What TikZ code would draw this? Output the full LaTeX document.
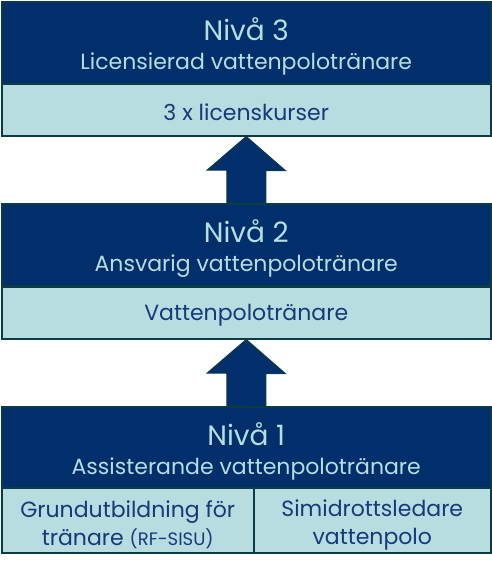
\documentclass[tikz,border=0pt]{standalone}
\usepackage{fontspec}
\setmainfont{Poppins}
\usetikzlibrary{calc}
\definecolor{navy}{HTML}{002F6B}
\definecolor{paleteal}{HTML}{B7DDE0}
\definecolor{edge}{HTML}{0B3C46}
\definecolor{inknavy}{HTML}{17397A}

\begin{document}
\begin{tikzpicture}[
    x=1pt, y=1pt,
    level/.style={rectangle, draw=edge, line width=1.5pt, fill=navy, text=paleteal,
        minimum width=489pt, minimum height=82pt, anchor=north west, align=center,
        inner sep=0pt, font=\fontsize{22}{29}\selectfont},
    course/.style={rectangle, draw=edge, line width=1.5pt, fill=paleteal, text=inknavy,
        minimum height=52pt, anchor=north west, align=center,
        inner sep=0pt, font=\fontsize{22}{28}\selectfont},
    uparrow/.style={draw=edge, line width=1pt, fill=navy}
]
\useasboundingbox (0,0) rectangle (491,-566);

% Level 3
\node[level] (lvl3) at (1,-1) {{\fontsize{28}{29}\selectfont\rule{0pt}{31pt}Nivå 3}\\Licensierad vattenpolotränare};
\node[course, minimum width=489pt] (kurs3) at (1,-83) {\rule{0pt}{22pt}3 x licenskurser};

% Level 2
\node[level] (lvl2) at (1,-203) {{\fontsize{28}{29}\selectfont\rule{0pt}{31pt}Nivå 2}\\Ansvarig vattenpolotränare};
\node[course, minimum width=489pt] (kurs2) at (1,-286) {\rule{0pt}{22pt}Vattenpolotränare};

% Level 1
\node[level, minimum height=81pt] (lvl1) at (1,-406) {{\fontsize{28}{29}\selectfont\rule{0pt}{31pt}Nivå 1}\\Assisterande vattenpolotränare};
\node[course, minimum width=252pt, minimum height=65pt] (grund) at (1,-487)
    {\rule{0pt}{26pt}Grundutbildning för\\tränare {\fontsize{18}{28}\selectfont(RF-SISU)}};
\node[course, minimum width=237pt, minimum height=65pt] (simi) at (253,-487)
    {\rule{0pt}{26pt}Simidrottsledare\\vattenpolo};

% Arrows between the levels
\draw[uparrow] (lvl2.north) ++(-19.5,0) -- ++(0,33) -- ++(-19.5,0) -- (kurs3.south)
    -- ++(39,-34) -- ++(-19.5,0) -- ++(0,-33) -- cycle;
\draw[uparrow] (lvl1.north) ++(-19.5,0) -- ++(0,33) -- ++(-19.5,0) -- (kurs2.south)
    -- ++(39,-34) -- ++(-19.5,0) -- ++(0,-33) -- cycle;

\end{tikzpicture}
\end{document}
